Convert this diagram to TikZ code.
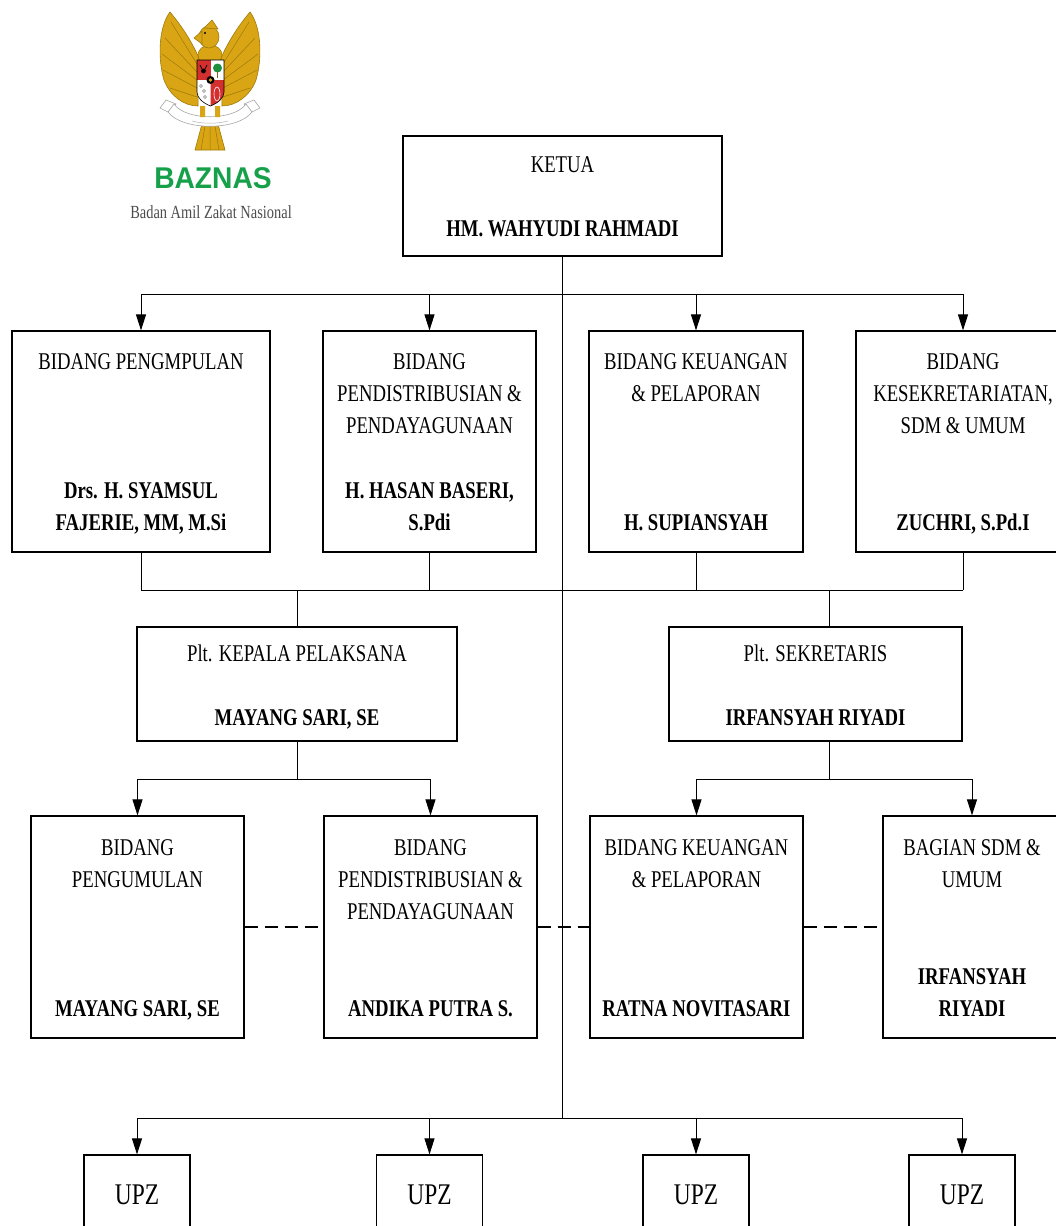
\documentclass[tikz,border=0pt]{standalone}
\usepackage{fontspec}
\setmainfont{Liberation Serif}[FakeStretch=0.78]
\newfontfamily\logofont{Liberation Sans}[FakeStretch=0.94]
\usepackage{xcolor}
\usetikzlibrary{positioning,arrows.meta}
\definecolor{garuda}{HTML}{D9A514}
\definecolor{garudaline}{HTML}{9C7A0A}
\definecolor{bazgreen}{HTML}{16A04A}
\definecolor{shieldred}{HTML}{D32F2F}
\definecolor{treegreen}{HTML}{1E8F3C}
\tikzset{
    org-box/.style = {draw=black, line width=1.2pt, rectangle, inner sep=0pt},
    org-title/.style = {font=\fontsize{24}{32}\selectfont, align=center, inner sep=0pt},
    org-name/.style = {font=\fontsize{24}{32}\selectfont\bfseries, align=center, inner sep=0pt},
    upz-title/.style = {font=\fontsize{30}{38}\selectfont, inner sep=0pt},
    link/.style = {line width=1pt},
    link-arrow/.style = {line width=1pt, -{Triangle[length=16pt,width=10pt]}},
    dashed-link/.style = {line width=1.3pt, dash pattern=on 13pt off 7pt},
}

\begin{document}
\begin{tikzpicture}[x=1pt,y=-1pt]
\useasboundingbox (0,0) rectangle (1056,1226);
\clip (0,0) rectangle (1056,1226);

% logo
\filldraw[fill=garuda, draw=garudaline, line width=0.6pt] (199,58) .. controls (190,38) and (180,24) .. (170,12) .. controls (158,28) and (158,60) .. (164,80) .. controls (170,96) and (184,106) .. (198,106) -- cycle;
\filldraw[fill=garuda, draw=garudaline, line width=0.6pt] (221,58) .. controls (230,38) and (240,24) .. (250,12) .. controls (262,28) and (262,60) .. (256,80) .. controls (250,96) and (236,106) .. (222,106) -- cycle;
\draw[garudaline, line width=0.5pt] (197,64) -- (171,22) (197,72) -- (165,38) (197,80) -- (162,54) (197,88) -- (163,70) (197,97) -- (170,88);
\draw[garudaline, line width=0.5pt] (223,64) -- (249,22) (223,72) -- (255,38) (223,80) -- (258,54) (223,88) -- (257,70) (223,97) -- (250,88);
\filldraw[fill=garuda, draw=garudaline, line width=0.6pt] (202,124) -- (218,124) -- (225,150) -- (195,150) -- cycle;
\draw[garudaline, line width=0.5pt] (210,126) -- (210,150) (205,126) -- (201,150) (215,126) -- (219,150);
\filldraw[fill=garuda, draw=garudaline, line width=0.6pt] (210,55) ellipse (12 and 10);
\filldraw[fill=garuda, draw=garudaline, line width=0.6pt] (209,37) ellipse (10 and 11);
\filldraw[fill=garuda, draw=garudaline, line width=0.6pt] (202,31) -- (194,38) -- (202,44) -- cycle;
\filldraw[fill=garuda, draw=garudaline, line width=0.6pt] (204,28) -- (212,20) -- (218,29) -- cycle;
\fill[black] (205,33) circle (1.2);
\fill[shieldred] (197,60) rectangle (210.5,80);
\fill[white] (210.5,60) rectangle (224,80);
\fill[white] (197,80) -- (210.5,80) -- (210.5,106) .. controls (203,103) and (197,98) .. (197,92) -- cycle;
\fill[shieldred] (210.5,80) -- (224,80) -- (224,92) .. controls (224,98) and (218,103) .. (210.5,106) -- cycle;
\fill[treegreen] (217.5,68) circle (4.5);
\draw[brown!70!black, line width=1pt] (217.5,72) -- (217.5,78);
\fill[black] (203.5,71) circle (2.4);
\draw[black, line width=0.8pt] (200,65) -- (202,69) (207,65) -- (205,69);
\draw[gray, line width=0.6pt] (201,86) circle (1.5) (204,91) circle (1.5) (205,97) circle (1.5);
\draw[white, line width=0.6pt] (217,94) ellipse (3 and 7);
\fill[black] (210.5,80) circle (4);
\fill[garuda] (210.5,80) circle (1.8);
\draw[black, line width=0.6pt] (197,60) -- (224,60) -- (224,92) .. controls (224,98) and (218,103) .. (210.5,106) .. controls (203,103) and (197,98) .. (197,92) -- cycle;
\filldraw[fill=white, draw=gray!70, line width=0.6pt] (166,100) -- (176,104) -- (168,112) -- (160,108) -- cycle;
\filldraw[fill=white, draw=gray!70, line width=0.6pt] (254,100) -- (244,104) -- (252,112) -- (260,108) -- cycle;
\filldraw[fill=white, draw=gray!70, line width=0.6pt] (174,104) .. controls (186,121) and (234,121) .. (246,104) -- (252,112) .. controls (238,131) and (182,131) .. (168,112) -- cycle;
\draw[gray!60, line width=0.5pt] (192,121) .. controls (203,124) and (217,124) .. (228,121);
\fill[garuda] (200,106) rectangle (205,117) (215,106) rectangle (220,117);
\node[font=\logofont\bfseries\fontsize{30}{30}\selectfont, text=bazgreen, inner sep=0pt] (baznas) at (213,178) {BAZNAS};
\node[font=\fontsize{18.5}{20}\selectfont, text=black!70, inner sep=0pt] (baznas-sub) at (211,212) {Badan Amil Zakat Nasional};

% boxes
\node[org-box, minimum width=319pt, minimum height=120pt] (ketua) at (562.5,196) {};
\node[org-title, below=14.6pt of ketua.north] {\strut KETUA};
\node[org-name, above=10.4pt of ketua.south] {HM. WAHYUDI RAHMADI\strut};

\node[org-box, minimum width=258pt, minimum height=221pt] (b1) at (141,441.5) {};
\node[org-box, minimum width=213pt, minimum height=221pt] (b2) at (429.5,441.5) {};
\node[org-box, minimum width=214pt, minimum height=221pt] (b3) at (696,441.5) {};
\node[org-box, minimum width=214pt, minimum height=221pt] (b4) at (963,441.5) {};
\node[org-title, below=16.6pt of b1.north] {\strut BIDANG PENGMPULAN};
\node[org-name, above=12.4pt of b1.south] {Drs. H. SYAMSUL\\FAJERIE, MM, M.Si\strut};
\node[org-title, below=16.6pt of b2.north] {\strut BIDANG\\PENDISTRIBUSIAN \&\\PENDAYAGUNAAN};
\node[org-name, above=12.4pt of b2.south] {H. HASAN BASERI,\\S.Pdi\strut};
\node[org-title, below=16.6pt of b3.north] {\strut BIDANG KEUANGAN\\\& PELAPORAN};
\node[org-name, above=12.4pt of b3.south] {H. SUPIANSYAH\strut};
\node[org-title, below=16.6pt of b4.north] {\strut BIDANG\\KESEKRETARIATAN,\\SDM \& UMUM};
\node[org-name, above=12.4pt of b4.south] {ZUCHRI, S.Pd.I\strut};

\node[org-box, minimum width=320pt, minimum height=114pt] (kepala) at (297,684) {};
\node[org-title, below=12.6pt of kepala.north] {\strut Plt. KEPALA PELAKSANA};
\node[org-name, above=6.4pt of kepala.south] {MAYANG SARI, SE\strut};
\node[org-box, minimum width=293pt, minimum height=114pt] (sekretaris) at (815.5,684) {};
\node[org-title, below=12.6pt of sekretaris.north] {\strut Plt. SEKRETARIS};
\node[org-name, above=6.4pt of sekretaris.south] {IRFANSYAH RIYADI\strut};

\node[org-box, minimum width=213pt, minimum height=222pt] (rA) at (137.5,927) {};
\node[org-box, minimum width=213pt, minimum height=222pt] (rB) at (430.5,927) {};
\node[org-box, minimum width=213pt, minimum height=222pt] (rC) at (696.5,927) {};
\node[org-box, minimum width=178pt, minimum height=222pt] (rD) at (972,927) {};
\node[org-title, below=17.6pt of rA.north] {\strut BIDANG\\PENGUMULAN};
\node[org-name, above=12.4pt of rA.south] {MAYANG SARI, SE\strut};
\node[org-title, below=17.6pt of rB.north] {\strut BIDANG\\PENDISTRIBUSIAN \&\\PENDAYAGUNAAN};
\node[org-name, above=12.4pt of rB.south] {ANDIKA PUTRA S.\strut};
\node[org-title, below=17.6pt of rC.north] {\strut BIDANG KEUANGAN\\\& PELAPORAN};
\node[org-name, above=12.4pt of rC.south] {RATNA NOVITASARI\strut};
\node[org-title, below=17.6pt of rD.north] {\strut BAGIAN SDM \&\\UMUM};
\node[org-name, above=12.4pt of rD.south] {IRFANSYAH\\RIYADI\strut};

\foreach \i/\x in {1/137,2/429.5,3/696,4/962} {
    \node[org-box, minimum width=106pt, minimum height=110pt] (u\i) at (\x,1210) {};
    \node[upz-title, below=23.4pt of u\i.north] {\strut UPZ};
}

% connectors
\coordinate (bus-top) at (563,294);
\coordinate (bus-mid) at (563,590);
\coordinate (sek-feed) at (829,590);
\coordinate (bus-low) at (563,779);
\coordinate (bus-upz) at (563,1118);

\draw[link] (ketua.south) -- (ketua.south |- bus-upz);
\draw[link] (bus-top -| b1.north) -- (bus-top -| b4.north);
\foreach \b in {b1,b2,b3,b4}
    \draw[link-arrow] (bus-top -| \b.north) -- (\b.north);

\foreach \b in {b1,b2,b3,b4}
    \draw[link] (\b.south) -- (bus-mid -| \b.south);
\draw[link] (bus-mid -| b1.south) -- (bus-mid -| b4.south);
\draw[link] (bus-mid -| kepala.north) -- (kepala.north);
\draw[link] (sek-feed) -- (sek-feed |- sekretaris.north);

\draw[link] (kepala.south) -- (bus-low -| kepala.south);
\draw[link] (bus-low -| rA.north) -- (bus-low -| rB.north);
\foreach \b in {rA,rB}
    \draw[link-arrow] (bus-low -| \b.north) -- (\b.north);
\draw[link] (sek-feed |- sekretaris.south) -- (sek-feed |- bus-low);
\draw[link] (bus-low -| rC.north) -- (bus-low -| rD.north);
\foreach \b in {rC,rD}
    \draw[link-arrow] (bus-low -| \b.north) -- (\b.north);

\draw[dashed-link] (rA.east) -- (rB.west);
\draw[dashed-link] (rB.east) -- (rC.west);
\draw[dashed-link] (rC.east) -- (rD.west);

\draw[link] (bus-upz -| u1.north) -- (bus-upz -| u4.north);
\foreach \i in {1,2,3,4}
    \draw[link-arrow] (bus-upz -| u\i.north) -- (u\i.north);
\end{tikzpicture}
\end{document}
